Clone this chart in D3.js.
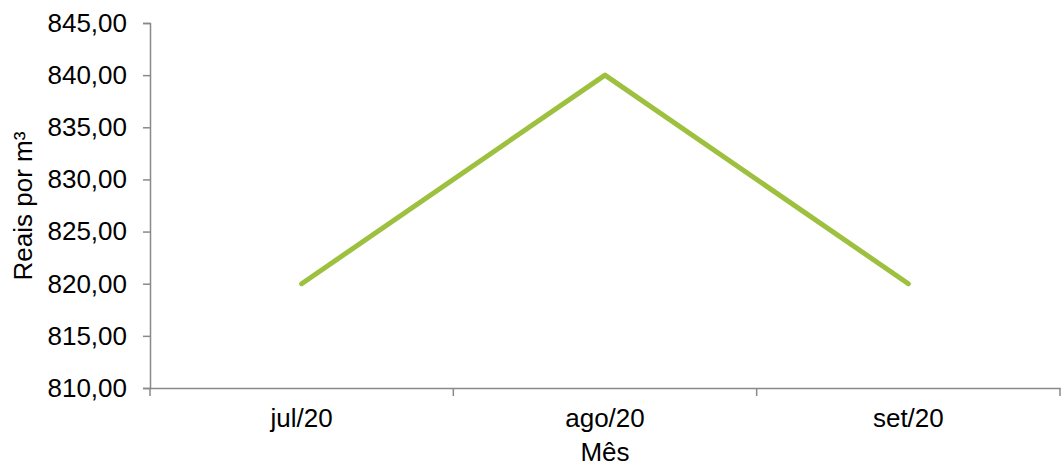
<!DOCTYPE html>
<html><head><meta charset="utf-8">
<script src="https://cdn.jsdelivr.net/npm/d3@7"></script>
<style>body{margin:0;background:#fff}svg text{font-family:"Liberation Sans",Arial,sans-serif;fill:#000}</style>
</head><body><svg id="c" width="1064" height="468"></svg>
<script>
const categories = ["jul/20","ago/20","set/20"];
const values = [820, 840, 820];
const yTicks = [810,815,820,825,830,835,840,845];
const xTitle = "Mês";
const yTitle = "Reais por m³";

const svg = d3.select("#c");
const m = {l:150, r:1060, t:23, b:388};
const x = d3.scaleBand().domain(categories).range([m.l, m.r]);
const y = d3.scaleLinear().domain([810,845]).range([m.b, m.t]);
const axisColor = "#898989";
const fs = "26px";
const fmt = d => d3.format(".2f")(d).replace(".", ",");

const ya = svg.append("g").attr("transform",`translate(${m.l},0)`)
  .call(d3.axisLeft(y).tickValues(yTicks).tickFormat(fmt).tickSizeOuter(0).tickSize(7).tickPadding(16));
ya.attr("font-size",fs).attr("font-family","Liberation Sans, Arial, sans-serif");
ya.select(".domain").attr("stroke",axisColor).attr("stroke-width",1.5);
ya.selectAll(".tick line").attr("stroke",axisColor).attr("stroke-width",1.5);
ya.selectAll("text").attr("fill","#000");

const xa = svg.append("g").attr("transform",`translate(0,${m.b})`)
  .call(d3.axisBottom(x).tickSize(0).tickPadding(21).tickSizeOuter(0));
xa.attr("font-size",fs).attr("font-family","Liberation Sans, Arial, sans-serif");
xa.select(".domain").attr("stroke",axisColor).attr("stroke-width",1.5);
xa.selectAll("text").attr("fill","#000");
// boundary ticks between categories
const bounds = categories.map(c => x(c)).concat([x.range()[1]]);
svg.append("g").selectAll("line").data(bounds).join("line")
  .attr("x1",d=>d).attr("x2",d=>d).attr("y1",m.b).attr("y2",m.b+8)
  .attr("stroke",axisColor).attr("stroke-width",1.5);

const line = d3.line().x((d,i)=>x(categories[i])+x.bandwidth()/2).y(d=>y(d));
svg.append("path").datum(values).attr("d",line).attr("fill","none")
  .attr("stroke","#9DC13F").attr("stroke-width",5).attr("stroke-linejoin","round").attr("stroke-linecap","round");

svg.append("text").attr("x",(m.l+m.r)/2).attr("y",461).attr("text-anchor","middle")
  .attr("font-size",fs).text(xTitle);
svg.append("text").attr("transform",`translate(32,206) rotate(-90)`).attr("text-anchor","middle")
  .attr("font-size",fs).text(yTitle);
</script></body></html>
